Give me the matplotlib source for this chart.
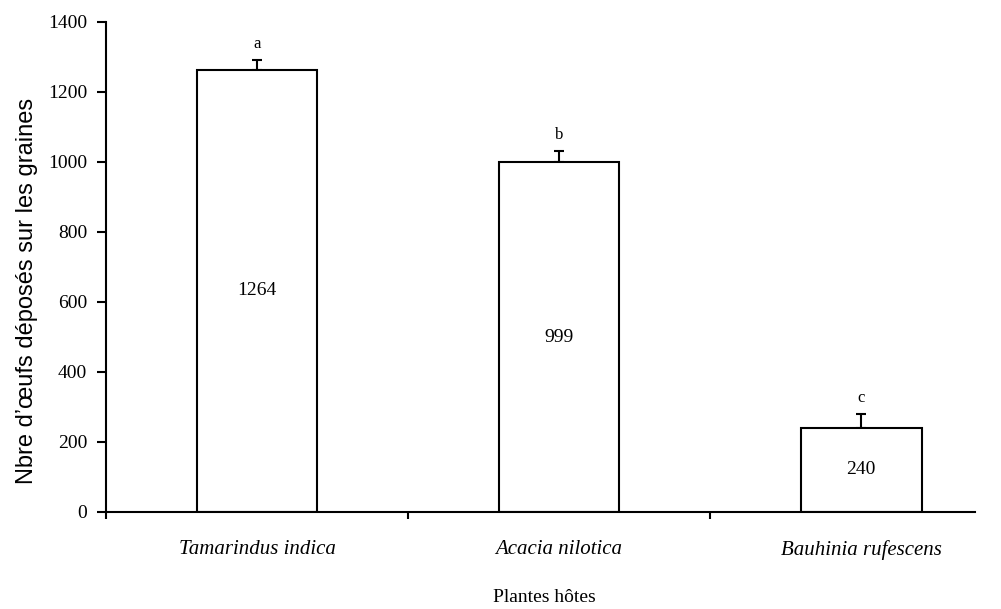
import numpy as np
import matplotlib.pyplot as plt

# data
plants = ["Tamarindus indica", "Acacia nilotica", "Bauhinia rufescens"]
eggs = [1264, 999, 240]
errors = [28, 33, 40]
letters = ["a", "b", "c"]

fig = plt.figure(figsize=(10.01, 6.09), dpi=100)
ax = fig.add_axes([0.1059, 0.1593, 0.974 - 0.1059, 0.9639 - 0.1593])

x = np.arange(len(plants))

ax.bar(x, eggs, width=0.4, color="white", edgecolor="black", linewidth=1.5, zorder=2)
ax.errorbar(x, eggs, yerr=[np.zeros(len(errors)), errors], fmt="none",
            ecolor="black", elinewidth=1.5, capsize=3.6, capthick=1.5, zorder=1)

serif = "Liberation Serif"

for xi, v, e, l in zip(x, eggs, errors, letters):
    ax.text(xi, v / 2, str(v), ha="center", va="center", family=serif, fontsize=14)
    ax.text(xi, v + e + 22, l, ha="center", va="bottom", family=serif, fontsize=12)

ax.set_xlim(-0.5, 2.377)
ax.set_ylim(0, 1400)
ax.set_yticks(range(0, 1401, 200))
ax.set_yticklabels([str(t) for t in range(0, 1401, 200)], family=serif, fontsize=14)

# boundaries as major ticks, names on minor ticks
ax.set_xticks([-0.5, 0.5, 1.5])
ax.set_xticklabels([])
ax.set_xticks(x, minor=True)
ax.set_xticklabels(plants, minor=True, family=serif, style="italic", fontsize=15)
ax.tick_params(axis="x", which="major", direction="out", length=5, width=1.5)
ax.tick_params(axis="x", which="minor", length=0, pad=20)
ax.tick_params(axis="y", direction="out", length=6.5, width=1.5, pad=7)

for s in ["top", "right"]:
    ax.spines[s].set_visible(False)
for s in ["left", "bottom"]:
    ax.spines[s].set_linewidth(1.5)

ax.set_ylabel("Nbre d\u2019\u0153ufs déposés sur les graines", family="Liberation Sans", fontsize=17)
ax.yaxis.set_label_coords(-0.078, 0.451)
ax.set_xlabel("Plantes hôtes", family=serif, fontsize=14, va="center")
ax.xaxis.set_label_coords(0.505, -0.175)

fig.savefig("out.png", dpi=100)
